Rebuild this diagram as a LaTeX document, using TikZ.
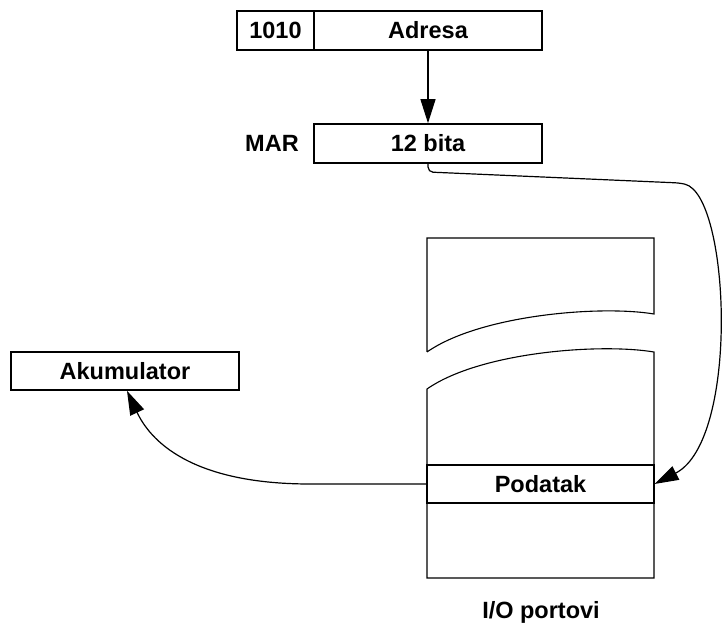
\documentclass[tikz,border=0pt]{standalone}
\usepackage{fontspec}
\setmainfont{Liberation Sans}
\usepackage{tikz}
\usetikzlibrary{arrows.meta,positioning,calc}

\begin{document}
\begin{tikzpicture}[x=1pt,y=-1pt,
			reg/.style={draw,line width=1.6pt,minimum height=39pt,inner sep=0pt,font=\fontsize{23.5}{27}\selectfont\bfseries},
			lbl/.style={font=\fontsize{23.5}{27}\selectfont\bfseries,inner sep=0pt},
			mem/.style={draw,line width=1.1pt},
			arr/.style={-{Triangle[length=24pt,width=15pt]},line width=1.2pt}
			]
			\useasboundingbox (0,0) rectangle (723,628);
			% adresni registar i MAR
			\node[reg,minimum width=77pt] (op) at (275.5,30.5) {1010};
			\node[reg,minimum width=228pt] (adr) at (428,30.5) {Adresa};
			\node[reg,minimum width=228pt] (mar) at (428,143.5) {12 bita};
			\node[lbl] (marlbl) at (272,143) {MAR};
			\node[reg,minimum width=228pt,minimum height=38pt] (acc) at (125,371) {Akumulator};
			\draw[arr] (adr.south)--(mar.north);
			% memorija I/O portova
			\draw[mem] (427,352)--(427,238)--(654,238)--(654,314)
				.. controls (600,305) and (480,315) .. (427,352);
			\draw[mem] (427,389) .. controls (480,352) and (600,343) .. (654,352)
				--(654,578)--(427,578)--cycle;
			\node[reg,line width=1.1pt,minimum width=227pt,minimum height=38pt] (pod) at (540.5,484) {Podatak};
			\node[lbl] (io) at (541,612) {I/O portovi};
			\coordinate (c1) at (680,183);
			\draw[arr,rounded corners=5pt] (mar.south)--(428,172)--(c1)
				.. controls (730,195) and (740,440) .. (pod.east);
			\draw[arr] (pod.west)--(310,484)
				.. controls (190,484) and (150,440) .. ($(acc.south)+(2,0)$);
		\end{tikzpicture}
\end{document}
